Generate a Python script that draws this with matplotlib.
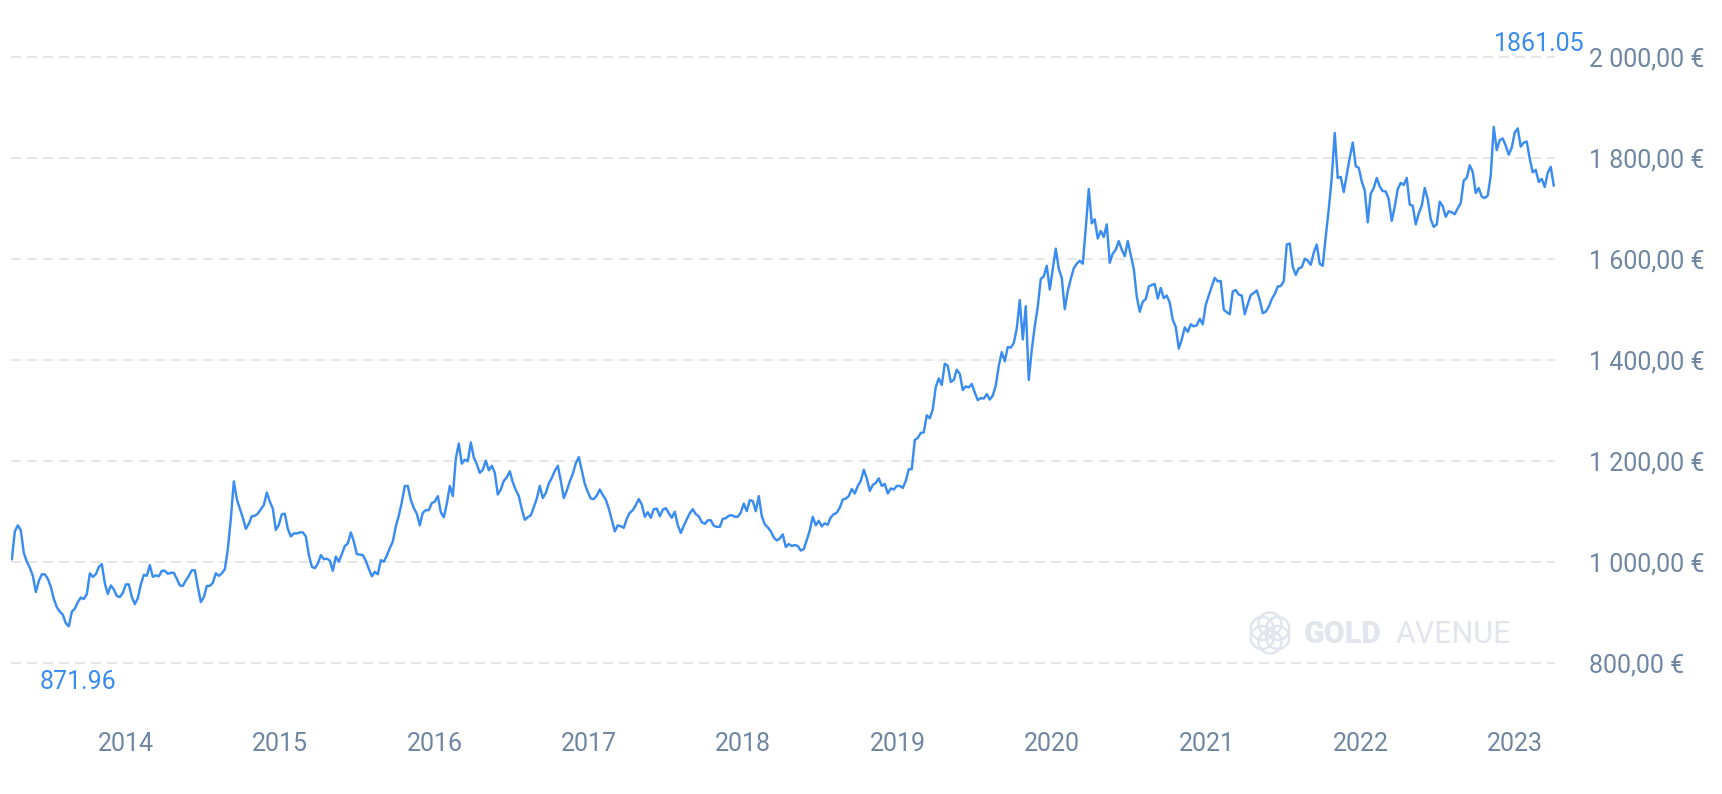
import matplotlib
matplotlib.use("Agg")
import matplotlib.pyplot as plt
import numpy as np
import pandas as pd
from matplotlib.patches import Circle

plt.rcParams['font.family'] = ['Roboto', 'DejaVu Sans']

# ---------------- data (gold price in EUR, roughly weekly) ----------------
start_date = "2013-08-10"
end_date = "2023-08-05"

price_2013_2015 = [
    1005, 1060, 1072, 1062, 1017, 1000, 988, 972, 940, 962,
    975, 975, 966, 950, 926, 910, 901, 895, 878, 871.96,
    901, 907, 920, 929, 926, 936, 977, 970, 975, 990,
    995, 957, 936, 953, 945, 932, 930, 938, 955, 955,
    930, 916, 928, 955, 974, 972, 993, 970, 973, 971,
    982, 982, 976, 978, 978, 966, 953, 952, 963, 972,
    983, 983, 950, 920, 930, 952, 952, 958, 977, 972,
    977, 985, 1025, 1085, 1159, 1124, 1105, 1087, 1065, 1075,
    1090, 1091, 1095, 1104, 1112, 1137, 1119, 1105, 1063, 1073,
    1094, 1095, 1065, 1050, 1056, 1056, 1058, 1058, 1050, 1014,
    990, 987, 996, 1013, 1005, 1006,
]
price_2015_2017 = [
    1002, 982, 1010, 1000, 1015, 1031, 1036, 1058, 1040, 1015,
    1014, 1013, 1002, 986, 971, 980, 975, 1003, 1000, 1012,
    1027, 1040, 1070, 1091, 1118, 1150, 1150, 1122, 1106, 1095,
    1072, 1097, 1102, 1102, 1116, 1119, 1130, 1098, 1088, 1115,
    1150, 1130, 1204, 1234, 1194, 1202, 1199, 1236, 1206, 1193,
    1176, 1182, 1200, 1181, 1190, 1176, 1133, 1143, 1160, 1167,
    1179, 1157, 1142, 1130, 1104, 1083, 1088, 1092, 1108, 1125,
    1150, 1126, 1136, 1155, 1166, 1180, 1190, 1160, 1126, 1141,
    1159, 1174, 1195, 1207, 1180, 1154, 1138, 1125, 1124, 1131,
    1143, 1132, 1123, 1105, 1083, 1060, 1072, 1070, 1067, 1085,
]
price_2017_2019 = [
    1097, 1102, 1112, 1124, 1113, 1089, 1098, 1087, 1104, 1105,
    1090, 1103, 1106, 1096, 1087, 1099, 1072, 1057, 1071, 1084,
    1096, 1104, 1094, 1090, 1078, 1075, 1082, 1082, 1071, 1069,
    1069, 1085, 1086, 1091, 1092, 1089, 1089, 1097, 1115, 1100,
    1122, 1120, 1100, 1130, 1090, 1074, 1068, 1060, 1048, 1042,
    1046, 1054, 1029, 1035, 1031, 1033, 1031, 1022, 1025, 1043,
    1062, 1089, 1072, 1081, 1070, 1076, 1073, 1088, 1094, 1097,
    1107, 1123, 1125, 1130, 1144, 1135, 1150, 1160, 1182, 1165,
    1140, 1152, 1156, 1165, 1150, 1154, 1135, 1145, 1143, 1150,
    1150, 1146, 1160, 1183, 1183, 1241, 1245, 1255, 1256, 1290,
]
price_2019_2021 = [
    1284, 1302, 1346, 1363, 1350, 1392, 1388, 1356, 1360, 1380,
    1372, 1340, 1347, 1345, 1352, 1335, 1320, 1324, 1323, 1332,
    1321, 1329, 1349, 1388, 1415, 1397, 1425, 1424, 1433, 1462,
    1518, 1440, 1506, 1360, 1420, 1466, 1505, 1560, 1565, 1586,
    1539, 1580, 1620, 1580, 1562, 1500, 1536, 1560, 1581, 1590,
    1596, 1590, 1660, 1738, 1670, 1678, 1640, 1655, 1643, 1668,
    1592, 1610, 1618, 1635, 1618, 1605, 1635, 1608, 1580, 1525,
    1495, 1515, 1520, 1545, 1548, 1550, 1521, 1542, 1522, 1527,
    1513, 1479, 1465, 1422, 1440, 1464, 1455, 1470, 1466, 1468,
    1481, 1470, 1509, 1527, 1545, 1562, 1555, 1556, 1499, 1494,
]
price_2021_2023 = [
    1490, 1535, 1538, 1529, 1527, 1490, 1510, 1528, 1532, 1537,
    1518, 1492, 1495, 1505, 1520, 1530, 1545, 1546, 1555, 1628,
    1630, 1584, 1568, 1581, 1583, 1600, 1596, 1588, 1612, 1628,
    1590, 1586, 1644, 1698, 1760, 1849, 1760, 1762, 1732, 1766,
    1800, 1830, 1783, 1780, 1753, 1735, 1672, 1729, 1740, 1760,
    1743, 1734, 1733, 1718, 1675, 1703, 1738, 1750, 1746, 1760,
    1707, 1705, 1668, 1690, 1705, 1740, 1718, 1678, 1663, 1668,
    1713, 1704, 1683, 1694, 1692, 1688, 1700, 1710, 1755, 1760,
    1785, 1772, 1730, 1740, 1723, 1720, 1725, 1765, 1861.05, 1815,
    1835, 1838, 1824, 1806, 1820, 1850, 1858, 1822, 1830, 1832,
    1798, 1771, 1776, 1752, 1758, 1742, 1770, 1782, 1745,
]

y_ticks = [800, 1000, 1200, 1400, 1600, 1800, 2000]
y_tick_labels = ["800,00 €", "1 000,00 €", "1 200,00 €", "1 400,00 €",
                 "1 600,00 €", "1 800,00 €", "2 000,00 €"]
year_labels = [2014, 2015, 2016, 2017, 2018, 2019, 2020, 2021, 2022, 2023]

# ---------------- styling ----------------
LINE = "#3a8cf0"
GREY = "#6f86a3"
GRID = "#e2e2e2"
WM = "#e1e5ec"

price = np.array(price_2013_2015 + price_2015_2017 + price_2017_2019
                 + price_2019_2021 + price_2021_2023, dtype=float)
dates = pd.date_range(start_date, end_date, periods=len(price))

W, H = 1722, 794
fig = plt.figure(figsize=(W / 100, H / 100), dpi=100)
ax = fig.add_axes([11 / W, (H - 700) / H, (1555 - 11) / W, 680 / H])

ax.plot(dates, price, color=LINE, lw=1.75, solid_joinstyle="round", zorder=3)

ax.set_xlim(pd.Timestamp("2013-08-08"), pd.Timestamp("2023-08-08"))
ax.set_ylim(726.1, 2072.7)

ax.set_yticks(y_ticks)
ax.set_yticklabels(y_tick_labels)
ax.yaxis.tick_right()
ax.tick_params(axis="y", length=0, pad=24.5, labelsize=18, labelcolor=GREY)

ax.set_xticks([pd.Timestamp(f"{y}-05-06") for y in year_labels])
ax.set_xticklabels([str(y) for y in year_labels])
ax.tick_params(axis="x", length=0, pad=23, labelsize=18, labelcolor=GREY)

ax.grid(axis="y", color=GRID, lw=1.2, linestyle=(0, (6, 3.6)))
ax.grid(axis="x", visible=False)
ax.set_axisbelow(True)
for s in ax.spines.values():
    s.set_visible(False)

# max / min annotations
imax = int(np.argmax(price))
imin = int(np.argmin(price))
ax.annotate(f"{price[imax]:.2f}", xy=(dates[imax], 0.954),
            xycoords=("data", "axes fraction"), ha="left", va="baseline",
            color=LINE, fontsize=18, annotation_clip=False)
ax.annotate(f"{price[imin]:.2f}", xy=(dates[imin], 0.016),
            xycoords=("data", "axes fraction"), xytext=(6.5, 0),
            textcoords="offset points", ha="center", va="baseline",
            color=LINE, fontsize=18, annotation_clip=False)

# watermark
fig.text(1304 / W, 1 - 643 / H, "GOLD", fontsize=22, fontweight="heavy",
         color=WM, ha="left", va="baseline")
fig.text(1396 / W, 1 - 643 / H, "AVENUE", fontsize=22, fontweight="normal",
         color=WM, ha="left", va="baseline")
lax = fig.add_axes([1245 / W, 1 - 659 / H, 50 / W, 52 / H])
lax.set_xlim(-25, 25)
lax.set_ylim(-26, 26)
lax.axis("off")
for ang in np.deg2rad(np.arange(0, 360, 60) + 30):
    lax.add_patch(Circle((9 * np.cos(ang), 9 * np.sin(ang)), 11.5,
                         fill=False, ec=WM, lw=1.8))

fig.savefig("out.png", dpi=100)
